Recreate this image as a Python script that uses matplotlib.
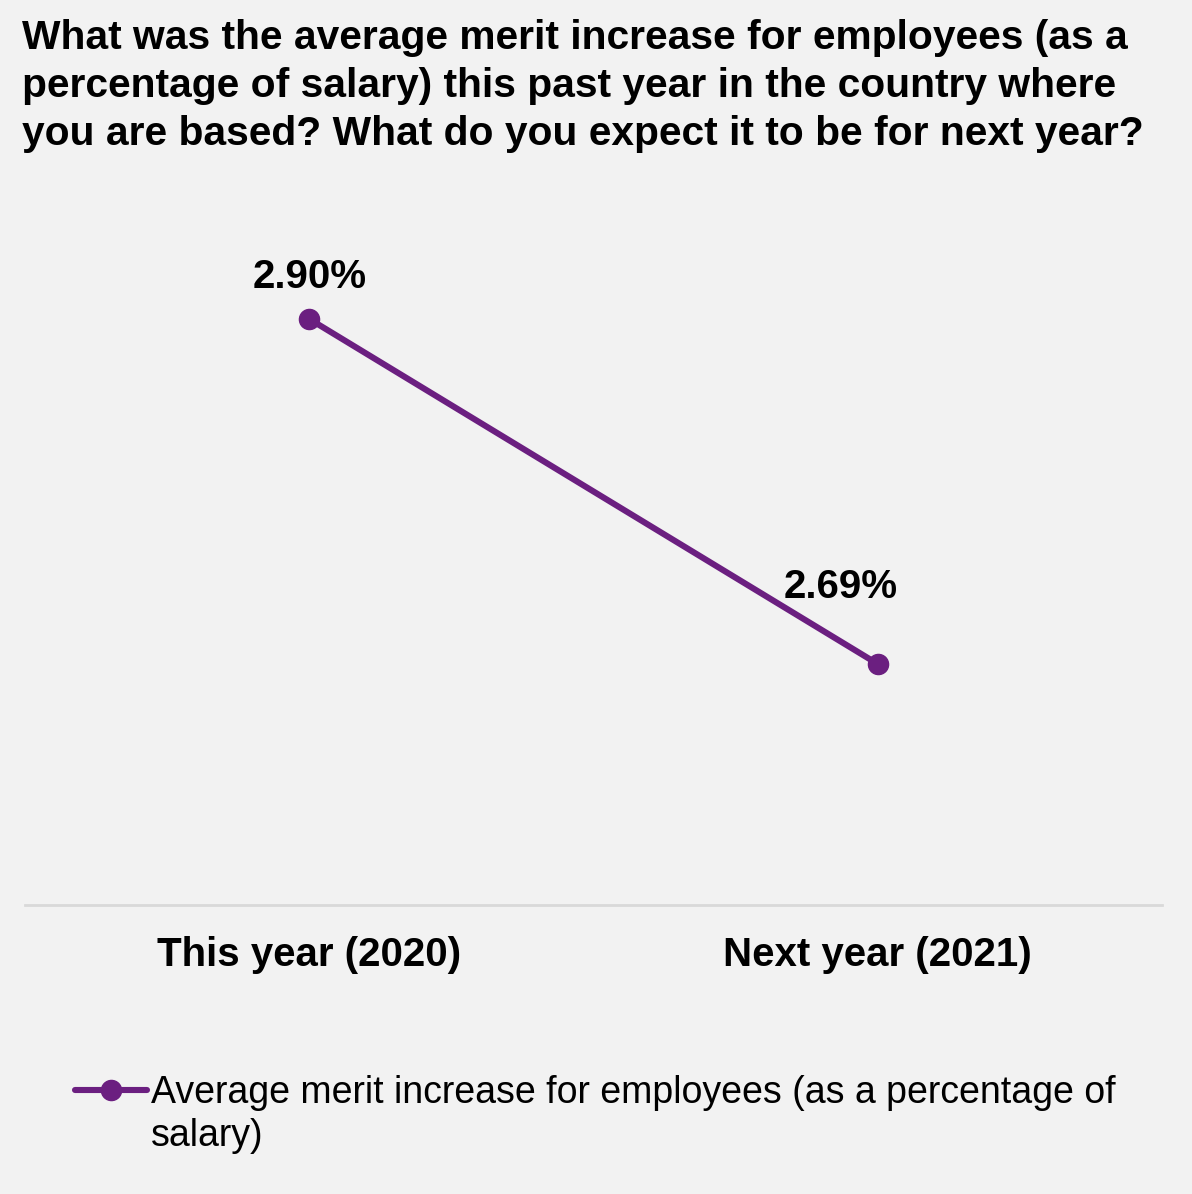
import matplotlib
matplotlib.use("Agg")
import matplotlib.pyplot as plt
from matplotlib.text import Annotation

# Survey results: average merit increase (% of salary)
categories = ["This year (2020)", "Next year (2021)"]
merit_increase = [2.90, 2.69]
value_labels = ["2.90%", "2.69%"]
series_label_line1 = "Average merit increase for employees (as a percentage of"
series_label_line2 = "salary)"
title_text = ("What was the average merit increase for employees (as a\n"
              "percentage of salary) this past year in the country where\n"
              "you are based? What do you expect it to be for next year?")

BG = "#f2f2f2"
PURPLE = "#6b1f80"
plt.rcParams["font.family"] = ["Liberation Sans", "DejaVu Sans"]

W, H = 1192, 1194
fig = plt.figure(figsize=(W / 100, H / 100), dpi=100, facecolor=BG)

# plot area in pixel terms
left_px, right_px = 25, 1162
bottom_px, top_px = 905, 190
ax = fig.add_axes([left_px / W, 1 - bottom_px / H,
                   (right_px - left_px) / W, (bottom_px - top_px) / H])
ax.set_facecolor(BG)

x = list(range(len(categories)))
line, = ax.plot(x, merit_increase, color=PURPLE, lw=4.4, marker="o",
                markersize=14.5, solid_capstyle="round",
                label=series_label_line1)

ax.set_xlim(-0.5, len(categories) - 0.5)
ax.set_ylim(2.5433, 2.9785)

# data labels (offsets in points from each marker)
label_offsets = [(0, 22), (-26.5, 47.5)]
for xi, yi, lab, off in zip(x, merit_increase, value_labels, label_offsets):
    ax.annotate(lab, (xi, yi), xytext=off, textcoords="offset points",
                ha="center", va="baseline", fontsize=29, fontweight="bold")

ax.set_xticks(x)
ax.set_xticklabels(categories, fontsize=29, fontweight="bold")
ax.tick_params(axis="x", length=0, pad=22)
ax.set_yticks([])
for side in ("left", "right", "top"):
    ax.spines[side].set_visible(False)
ax.spines["bottom"].set_color("#d9d9d9")
ax.spines["bottom"].set_linewidth(2)

fig.text(22 / W, 1 - 19 / H, title_text, ha="left", va="top",
         fontsize=29.3, fontweight="bold", linespacing=1.33)

leg = fig.legend(handles=[line], loc="upper left",
                 bbox_to_anchor=(75 / W, 1 - 1075 / H), frameon=False,
                 fontsize=27, handlelength=1.92, handletextpad=0.1,
                 borderpad=0, borderaxespad=0)
leg_text = leg.get_texts()[0]
second = Annotation(series_label_line2, xy=(0, 0), xycoords=leg_text,
                    xytext=(0, -5), textcoords="offset points",
                    ha="left", va="top", fontsize=27,
                    annotation_clip=False)
second.set_zorder(leg.get_zorder() + 1)
fig.add_artist(second)

fig.savefig("out.png", dpi=100, facecolor=BG)
